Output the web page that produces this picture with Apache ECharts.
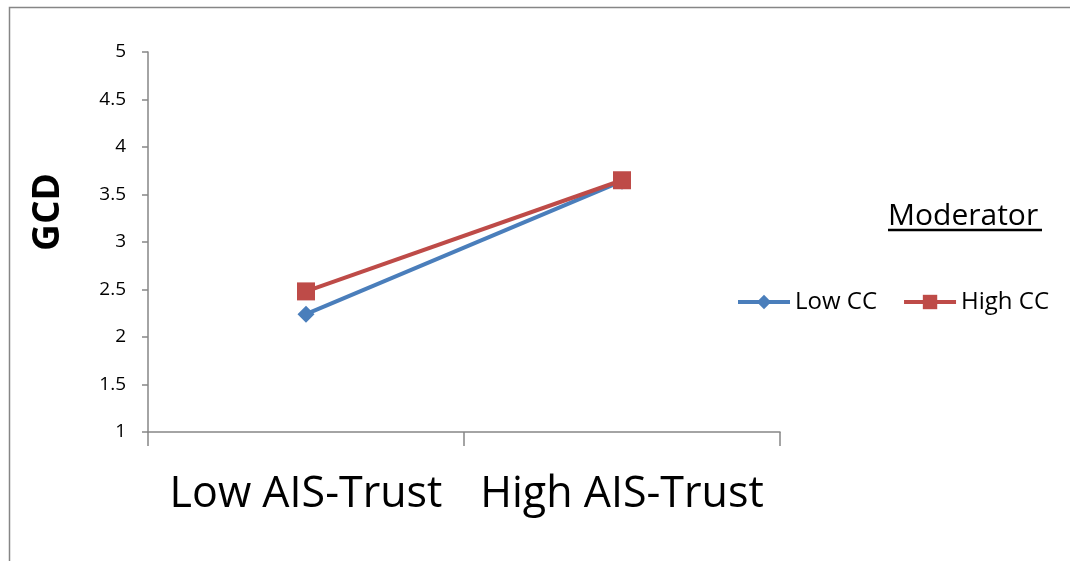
<!DOCTYPE html>
<html>
<head>
<meta charset="utf-8">
<script src="https://cdn.jsdelivr.net/npm/echarts@6/dist/echarts.min.js"></script>
<style>
  html, body { margin: 0; padding: 0; background: #fff; }
  #main { width: 1070px; height: 561px; }
</style>
</head>
<body>
<div id="main"></div>
<script>
var categories = ['Low AIS-Trust', 'High AIS-Trust'];
var lowCC = [2.24, 3.64];
var highCC = [2.48, 3.65];
var seriesNames = ['Low CC', 'High CC'];

var font = '"Open Sans", "Noto Sans", sans-serif';

var option = {
    animation: false,
    grid: {
        left: 148,
        right: 290,
        top: 52,
        bottom: 129
    },
    graphic: {
        elements: [
            // chart frame
            {
                type: 'rect',
                shape: { x: 9.5, y: 7.5, width: 1100, height: 600 },
                style: { fill: 'none', stroke: '#868686', lineWidth: 1.5 },
                silent: true
            },
            {
                type: 'text',
                left: 888,
                top: 201,
                style: { text: 'Moderator', font: '30px ' + font, fill: '#000' }
            },
            {
                type: 'line',
                shape: { x1: 888, y1: 230, x2: 1042, y2: 230 },
                style: { stroke: '#000', lineWidth: 2.5 }
            }
        ]
    },
    legend: {
        left: 731,
        top: 285,
        itemWidth: 52,
        itemHeight: 18,
        itemGap: 25,
        lineStyle: { width: 4 },
        textStyle: { fontSize: 24, fontFamily: font, color: '#000' },
        data: seriesNames
    },
    xAxis: {
        type: 'category',
        data: categories,
        axisLine: { lineStyle: { color: '#868686', width: 1.5 } },
        axisTick: { show: true, interval: 0, length: 14, lineStyle: { color: '#868686', width: 1.5 } },
        axisLabel: { interval: 0, hideOverlap: false, fontSize: 43, fontFamily: font, color: '#000', margin: 41 }
    },
    yAxis: {
        type: 'value',
        min: 1,
        max: 5,
        interval: 0.5,
        name: 'GCD',
        nameLocation: 'middle',
        nameGap: 81,
        nameTextStyle: { fontSize: 37, fontWeight: 'bold', fontFamily: font, color: '#000', padding: [0, 0, 0, 60] },
        splitLine: { show: false },
        axisLine: { show: true, lineStyle: { color: '#868686', width: 1.5 } },
        axisTick: { show: true, length: 6, lineStyle: { color: '#868686', width: 1.5 } },
        axisLabel: { fontSize: 19, fontFamily: font, color: '#000', margin: 22 }
    },
    series: [
        {
            name: seriesNames[0],
            type: 'line',
            data: lowCC,
            symbol: 'diamond',
            symbolSize: 17,
            lineStyle: { color: '#4a7ebb', width: 4 },
            itemStyle: { color: '#4a7ebb' }
        },
        {
            name: seriesNames[1],
            type: 'line',
            data: highCC,
            symbol: 'rect',
            symbolSize: 18,
            lineStyle: { color: '#be4b48', width: 4 },
            itemStyle: { color: '#be4b48' }
        }
    ]
};

echarts.init(document.getElementById('main')).setOption(option);
</script>
</body>
</html>
